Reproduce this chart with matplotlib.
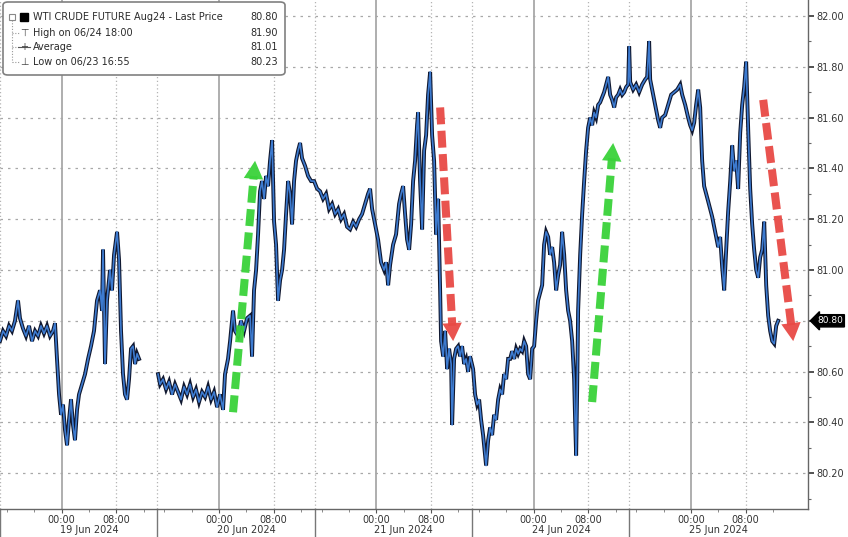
import matplotlib
matplotlib.use("Agg")
import matplotlib.pyplot as plt
import matplotlib.transforms as mtransforms
from matplotlib.patches import FancyBboxPatch, Rectangle
from matplotlib.lines import Line2D

# ---------------- data (hours since 15:00 on 18 Jun, trading-time axis) ----------------
s1_hours = [0.0,0.44,0.88,1.32,1.75,2.19,2.63,2.92,3.36,3.80,4.24,4.68,5.12,5.56,5.99,6.43,6.87,7.31,7.75,8.04,
            8.33,8.63,8.92,9.21,9.50,9.80,10.09,10.38,10.67,10.96,11.26,11.55,11.99,12.43,12.87,13.30,13.74,14.18,
            14.62,14.91,15.06,15.35,15.64,16.08,16.37,16.67,16.96,17.11,17.40,17.69,17.98,18.27,18.57,18.86,19.15,
            19.44,19.74,20.03,20.32]
s1_price = [80.72,80.76,80.74,80.78,80.76,80.80,80.88,80.81,80.77,80.74,80.78,80.72,80.76,80.74,80.78,80.75,80.78,
            80.74,80.76,80.79,80.65,80.51,80.43,80.47,80.37,80.31,80.41,80.49,80.39,80.33,80.45,80.51,80.55,80.59,
            80.65,80.70,80.76,80.88,80.92,80.84,81.08,80.63,80.88,81.00,80.92,81.06,81.12,81.15,81.04,80.76,80.59,
            80.51,80.49,80.57,80.69,80.70,80.63,80.67,80.65]

s2_hours = [23.10,23.39,23.83,24.27,24.71,25.15,25.58,26.02,26.46,26.90,27.34,27.78,28.22,28.65,29.09,29.53,29.97,
            30.41,30.85,31.29,31.73,32.16,32.60,32.89,33.33,33.63,34.06,34.36,34.80,35.23,35.67,36.11,36.55,36.84,
            37.13,37.43,37.72,38.01,38.30,38.60,38.89,39.18,39.47,39.77,40.06,40.35,40.64,40.94,41.23,41.52,41.81,
            42.11,42.40,42.69,42.98,43.27,43.57,43.86,44.15,44.59,45.03,45.47]
s2_price = [80.59,80.55,80.57,80.53,80.56,80.51,80.55,80.52,80.49,80.54,80.51,80.55,80.50,80.53,80.48,80.52,80.50,
            80.54,80.49,80.52,80.46,80.51,80.45,80.59,80.65,80.72,80.84,80.76,80.74,80.80,80.76,80.81,80.82,80.66,
            80.92,81.00,81.14,81.31,81.35,81.28,81.37,81.33,81.43,81.51,81.19,81.10,80.88,80.96,81.00,81.08,81.22,
            81.35,81.30,81.18,81.35,81.43,81.47,81.50,81.44,81.41,81.37,81.35]

s3_hours = [45.91,46.35,46.78,47.22,47.66,48.10,48.54,48.98,49.42,49.85,50.29,50.73,51.17,51.61,52.05,52.49,52.92,
            53.36,53.80,54.09,54.39,54.82,55.26,55.70,56.14,56.43,56.73,57.02,57.46,57.89,58.33,58.63,58.92,59.21,
            59.50,59.80,60.09,60.38,60.67,60.96,61.11,61.40,61.70,61.99,62.28,62.57,62.87,63.16,63.45,63.74,64.04,
            64.33,64.47,64.77,65.06,65.35,65.64,65.94,66.08,66.37,66.67,66.96,67.25,67.54,67.84,68.13,68.42,68.71]
s3_price = [81.35,81.32,81.31,81.28,81.30,81.24,81.26,81.22,81.24,81.20,81.22,81.17,81.16,81.19,81.17,81.20,81.22,
            81.26,81.30,81.32,81.24,81.18,81.12,81.03,81.00,81.03,80.94,81.02,81.10,81.14,81.26,81.30,81.33,81.22,
            81.12,81.08,81.18,81.35,81.43,81.57,81.62,81.35,81.16,81.47,81.53,81.69,81.78,81.53,81.43,81.14,81.28,
            80.92,80.72,80.66,80.76,80.61,80.69,80.63,80.39,80.65,80.69,80.70,80.66,80.70,80.63,80.65,80.60,80.66]

s4_hours = [69.15,69.44,69.74,70.03,70.32,70.61,70.91,71.05,71.35,71.64,71.93,72.22,72.51,72.81,73.10,73.39,73.68,
            73.98,74.27,74.56,74.85,75.15,75.44,75.73,76.02,76.32,76.61,76.90,77.19,77.49,77.78,78.07,78.36,78.65,
            78.95,79.24,79.53,79.82,80.12,80.41,80.70,80.99,81.29,81.58,81.87,82.16,82.46,82.75,83.04,83.33,83.63,
            83.92,84.06,84.21,84.36,84.50,84.80,85.09,85.38,85.67,85.96,86.26,86.55,86.84,87.13,87.43,87.72,88.01,
            88.30,88.60,88.89,89.18,89.47,89.77,90.06,90.35,90.64,90.94,91.23,91.52]
s4_price = [80.61,80.51,80.47,80.49,80.41,80.35,80.27,80.23,80.33,80.38,80.35,80.43,80.41,80.49,80.53,80.51,80.59,
            80.57,80.65,80.65,80.68,80.65,80.69,80.67,80.69,80.68,80.72,80.70,80.59,80.57,80.69,80.70,80.80,80.88,
            80.91,80.94,81.10,81.15,81.13,81.06,81.09,81.03,80.92,80.98,81.02,81.15,81.06,80.92,80.84,80.80,80.72,
            80.57,80.41,80.27,80.53,80.84,81.06,81.22,81.35,81.47,81.56,81.60,81.57,81.62,81.60,81.65,81.66,81.68,
            81.70,81.73,81.76,81.69,81.67,81.64,81.68,81.69,81.71,81.69,81.70,81.72]

s5_hours = [91.81,91.96,92.11,92.54,92.98,93.42,93.86,94.30,94.59,94.88,95.03,95.47,95.91,96.20,96.49,96.78,97.22,
            97.66,98.10,98.54,98.98,99.42,99.71,100.15,100.58,100.88,101.17,101.46,101.75,102.05,102.34,102.63,
            102.92,103.22,103.51,103.80,104.09,104.39,104.68,104.97,105.26,105.56,105.85,106.14,106.43,106.73,
            107.02,107.31,107.60,107.89,108.19,108.48,108.77,109.06,109.36,109.65,109.94,110.23,110.53,110.82,
            111.11,111.40,111.70,111.99,112.28,112.57,112.87,113.16,113.45,113.74]
s5_price = [81.73,81.88,81.74,81.71,81.73,81.70,81.73,81.75,81.76,81.90,81.75,81.69,81.63,81.59,81.56,81.60,81.61,
            81.65,81.69,81.70,81.71,81.73,81.69,81.65,81.60,81.57,81.55,81.58,81.65,81.71,81.64,81.43,81.33,81.30,
            81.27,81.24,81.21,81.17,81.13,81.09,81.13,81.01,80.92,81.08,81.23,81.35,81.49,81.39,81.43,81.32,81.54,
            81.65,81.72,81.82,81.55,81.32,81.18,81.08,81.00,80.97,81.05,81.08,81.19,80.94,80.82,80.76,80.72,80.71,
            80.78,80.80]

session_hours = 23
session_dates = ["19 Jun 2024", "20 Jun 2024", "21 Jun 2024", "24 Jun 2024", "25 Jun 2024"]
tick_offsets = [9, 17]          # 00:00 and 08:00 (session opens 15:00)
tick_labels = ["00:00", "08:00"]
y_ticks = [80.2, 80.4, 80.6, 80.8, 81.0, 81.2, 81.4, 81.6, 81.8, 82.0]
last_price = 80.80

legend_labels = ["WTI CRUDE FUTURE Aug24 - Last Price", "High on 06/24 18:00", "Average", "Low on 06/23 16:55"]
legend_values = ["80.80", "81.90", "81.01", "80.23"]

# annotation arrows: tail / tip positions (hours, price) and colours
arrow_tail_x = [34.06, 64.33, 86.55, 111.55]
arrow_tail_y = [80.44, 81.64, 80.48, 81.67]
arrow_tip_x = [37.28, 66.23, 89.62, 115.94]
arrow_tip_y = [81.43, 80.72, 81.50, 80.72]
arrow_colors = ["#3ad23a", "#e84a45", "#3ad23a", "#e84a45"]

# ---------------- figure ----------------
W, H = 848, 537
fig = plt.figure(figsize=(W / 100, H / 100), dpi=100)
fig.patch.set_facecolor("white")
ax = fig.add_axes([0, 28 / H, 808 / W, 509 / H])
ax.set_xlim(0, 118.1)
ax.set_ylim(80.059, 82.063)

blend = mtransforms.blended_transform_factory(ax.transData, ax.transAxes)

# grid
for v in y_ticks:
    ax.axhline(v, color="#a8a8a8", lw=0.9, ls=(0, (2, 4)), zorder=0)
for k, d in enumerate(session_dates):
    start = k * session_hours
    ax.axvline(start, color="#b4b4b4", lw=0.9, ls=(0, (1, 2)), zorder=0)
    ax.axvline(start + tick_offsets[0], color="#a8a8a8", lw=1.3, zorder=0)
    ax.axvline(start + tick_offsets[1], color="#b4b4b4", lw=0.9, ls=(0, (1, 2)), zorder=0)
    ax.plot([start, start], [0, -0.06], transform=blend, color="#777777", lw=1.0, clip_on=False)
    ax.text(start + 13, -0.041, d, transform=blend, ha="center", va="center",
            fontsize=7, color="#333333")

# price line
rest_h = s2_hours + s3_hours + s4_hours + s5_hours
rest_p = s2_price + s3_price + s4_price + s5_price
for hh, pp in [(s1_hours, s1_price), (rest_h, rest_p)]:
    ax.plot(hh, pp, color="#101830", lw=2.8, zorder=3, solid_joinstyle="miter")
    ax.plot(hh, pp, color="#3d7bd0", lw=1.2, zorder=4)

# arrows
for tx, ty, hx, hy, c in zip(arrow_tail_x, arrow_tail_y, arrow_tip_x, arrow_tip_y, arrow_colors):
    ax.annotate("", xy=(hx, hy), xytext=(tx, ty),
                arrowprops=dict(arrowstyle="-", lw=5.8, ls=(0, (2.1, 0.8)), color=c,
                                capstyle="butt", shrinkA=0, shrinkB=11, alpha=0.95), zorder=6)
    ax.annotate("", xy=(hx, hy), xytext=(tx, ty),
                arrowprops=dict(arrowstyle="-|>,head_length=1.3,head_width=0.7", lw=0, color=c,
                                shrinkA=0, shrinkB=0, mutation_scale=10, alpha=0.95), zorder=6)

# spines
for s in ["left", "top"]:
    ax.spines[s].set_visible(False)
for s in ["right", "bottom"]:
    ax.spines[s].set_color("#666666")
    ax.spines[s].set_linewidth(1.0)

# y axis (right)
ax.yaxis.tick_right()
ax.set_yticks(y_ticks)
ax.set_yticklabels(["" if abs(v - last_price) < 1e-6 else f"{v:.2f}" for v in y_ticks])
ax.set_yticks([v + 0.1 for v in y_ticks[:-1]] + [80.1], minor=True)
ax.tick_params(axis="y", which="major", length=4, width=1.2, color="#333333", pad=2,
               labelsize=7, labelcolor="#333333")
ax.tick_params(axis="y", which="minor", length=2, width=0.8, color="#666666")

# x axis
xt, xl = [], []
for k in range(len(session_dates)):
    for off, lab in zip(tick_offsets, tick_labels):
        xt.append(k * session_hours + off)
        xl.append(lab)
ax.set_xticks(xt)
ax.set_xticklabels(xl)
ax.set_xticks([k * session_hours + o for k in range(len(session_dates)) for o in (1, 5, 13, 21)], minor=True)
ax.tick_params(axis="x", which="major", length=3, width=0.8, color="#555555", pad=1.5,
               labelsize=7, labelcolor="#333333")
ax.tick_params(axis="x", which="minor", length=2, width=0.6, color="#777777")

# last price tag
yblend = mtransforms.blended_transform_factory(ax.transAxes, ax.transData)
ax.text(1.011, last_price, f"{last_price:.2f}", transform=yblend, ha="left", va="center",
        fontsize=6.5, color="white", zorder=10, clip_on=False,
        bbox=dict(boxstyle="larrow,pad=0.18", fc="black", ec="black"))

# legend box
def fp(x, y):
    return (x / W, 1 - y / H)

box = FancyBboxPatch(fp(3, 75), 282 / W, 73 / H, boxstyle="round,pad=0,rounding_size=0.006",
                     transform=fig.transFigure, fc="white", ec="#808080", lw=1.2, zorder=20)
fig.patches.append(box)
rows_y = [17, 33, 47, 62]
for lab, val, ry in zip(legend_labels, legend_values, rows_y):
    fig.text(*fp(33, ry), lab, ha="left", va="center", fontsize=7, color="#2a2a2a", zorder=21)
    fig.text(*fp(278, ry), val, ha="right", va="center", fontsize=7, color="#2a2a2a", zorder=21)
# icons
fig.patches.append(Rectangle(fp(20, 21), 8 / W, 8 / H, transform=fig.transFigure,
                             fc="black", ec="black", zorder=21))
fig.patches.append(Rectangle(fp(9, 20), 6 / W, 6 / H, transform=fig.transFigure,
                             fc="white", ec="#888888", lw=0.8, zorder=21))
fig.lines.append(Line2D([12 / W, 12 / W], [1 - 20 / H, 1 - 62 / H], transform=fig.transFigure,
                        color="#999999", lw=0.8, ls=(0, (1, 1.5)), zorder=21))
for ry in rows_y[1:]:
    fig.lines.append(Line2D([12 / W, 19 / W], [1 - ry / H, 1 - ry / H], transform=fig.transFigure,
                            color="#999999", lw=0.8, ls=(0, (1, 1.5)), zorder=21))
fig.text(*fp(24, rows_y[1]), "\u22a4", ha="center", va="center", fontsize=7, color="#444444", zorder=22)
fig.lines.append(Line2D([18 / W, 30 / W], [1 - rows_y[2] / H] * 2, transform=fig.transFigure,
                        color="#555555", lw=0.8, zorder=22))
fig.text(*fp(24, rows_y[2]), "+", ha="center", va="center", fontsize=7, color="#444444", zorder=22)
fig.text(*fp(24, rows_y[3]), "\u22a5", ha="center", va="center", fontsize=7, color="#444444", zorder=22)

fig.savefig("out.png", dpi=100, facecolor="white")
